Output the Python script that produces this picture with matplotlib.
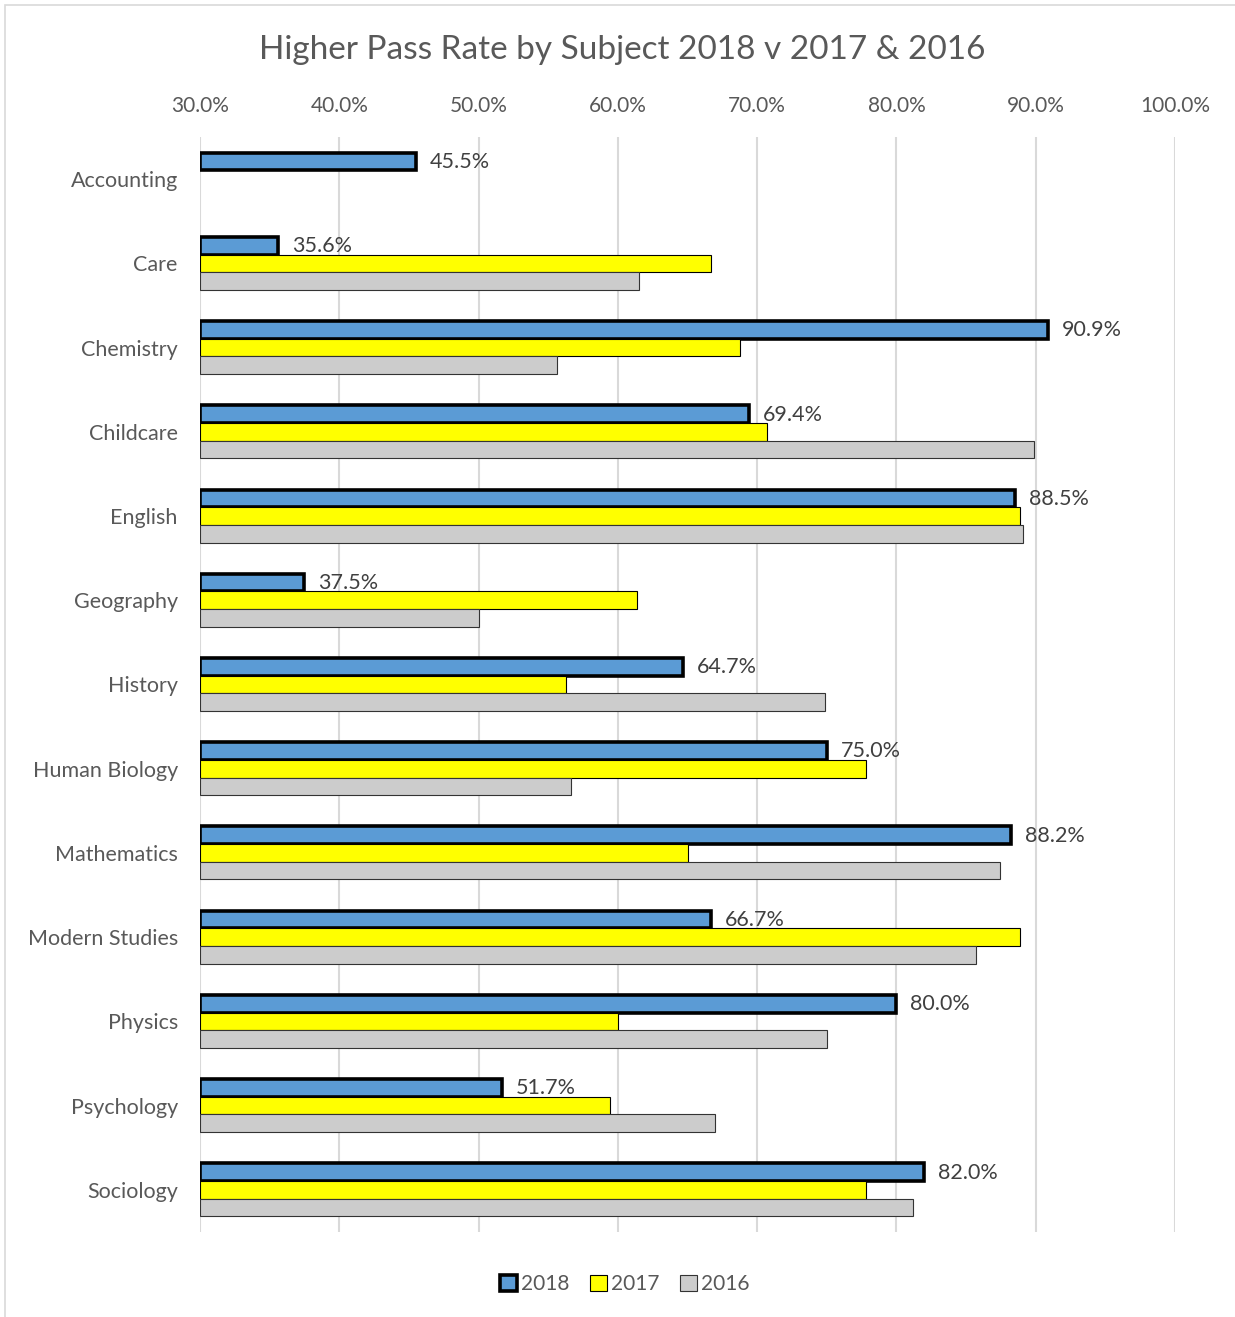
import numpy as np
import matplotlib.pyplot as plt
from matplotlib.patches import Rectangle
from matplotlib.ticker import FuncFormatter, MultipleLocator

plt.rcParams['font.family'] = ['Lato', 'DejaVu Sans']

subjects = ["Accounting", "Care", "Chemistry", "Childcare", "English", "Geography", "History",
            "Human Biology", "Mathematics", "Modern Studies", "Physics", "Psychology", "Sociology"]
rate_2018 = [45.5, 35.6, 90.9, 69.4, 88.5, 37.5, 64.7, 75.0, 88.2, 66.7, 80.0, 51.7, 82.0]
rate_2017 = [np.nan, 66.7, 68.8, 70.7, 88.9, 61.4, 56.3, 77.8, 65.0, 88.9, 60.0, 59.4, 77.8]
rate_2016 = [np.nan, 61.5, 55.6, 89.9, 89.1, 50.0, 74.9, 56.6, 87.4, 85.7, 75.0, 67.0, 81.2]

text_col = '#595959'
base = 30.0
h = 0.21

fig = plt.figure(figsize=(12.35, 13.17), dpi=100)
fig.patches.append(Rectangle((5 / 1235, -0.01), 1.1, 1 - 5 / 1317 + 0.01, transform=fig.transFigure,
                             fill=False, edgecolor='#d9d9d9', linewidth=1.2))
ax = fig.add_axes([200 / 1235, 1 - 1232 / 1317, 975 / 1235, (1232 - 137) / 1317])

y = np.arange(len(subjects))
w18 = np.array(rate_2018) - base
w17 = np.array(rate_2017) - base
w16 = np.array(rate_2016) - base

ax.barh(y - h, w18, height=h, left=base, color='#5b9bd5', edgecolor='black', linewidth=2.6,
        label='2018', zorder=3)
ax.barh(y, w17, height=h, left=base, color='#ffff00', edgecolor='black', linewidth=0.8,
        label='2017', zorder=3)
ax.barh(y + h, w16, height=h, left=base, color='#cccccc', edgecolor='#333333', linewidth=0.8,
        label='2016', zorder=3)

for yi, v in zip(y, rate_2018):
    ax.text(v + 1.0, yi - h + 0.005, f"{v:.1f}%", va='center', ha='left', fontsize=15.5, color='#404040',
            zorder=4)

ax.set_xlim(30, 100)
ax.set_ylim(len(subjects) - 0.5, -0.5)
ax.xaxis.set_major_locator(MultipleLocator(10))
ax.xaxis.set_major_formatter(FuncFormatter(lambda v, p: f"{v:.1f}%"))
ax.xaxis.tick_top()
ax.grid(axis='x', color='#d9d9d9', linewidth=1.5, zorder=0)
ax.set_yticks(y)
ax.set_yticklabels(subjects)
ax.tick_params(axis='x', length=0, pad=15, labelsize=15, labelcolor=text_col)
ax.tick_params(axis='y', length=0, pad=16, labelsize=15.5, labelcolor=text_col)
for s in ax.spines.values():
    s.set_visible(False)

fig.text(622 / 1235, 1 - 50 / 1317, "Higher Pass Rate by Subject 2018 v 2017 & 2016", ha='center', va='center',
         fontsize=24, color=text_col)

fig.legend(loc='center', bbox_to_anchor=(625 / 1235, 1 - 1284 / 1317), ncol=3, frameon=False,
           fontsize=15, labelcolor=text_col, handlelength=0.8, handleheight=0.8, handletextpad=0.2,
           columnspacing=1.0)

plt.savefig("out.png", dpi=100)
